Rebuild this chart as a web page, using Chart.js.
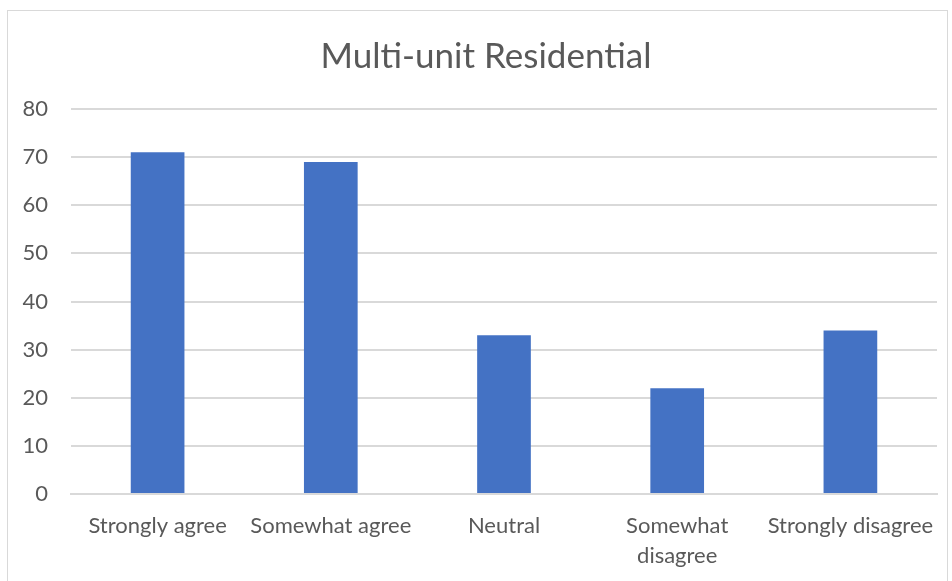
<!DOCTYPE html>
<html>
<head>
<meta charset="utf-8">
<script src="https://cdn.jsdelivr.net/npm/chart.js@4"></script>
<style>
  html, body { margin: 0; padding: 0; background: #fff; }
  #frame {
    position: absolute; left: 7px; top: 10px;
    width: 939px; height: 600px;
    border: 1px solid #d9d9d9;
  }
  #wrap { position: absolute; left: 0; top: 0; width: 952px; height: 581px; }
</style>
</head>
<body>
<div id="frame"></div>
<div id="wrap"><canvas id="grafico" width="952" height="581"></canvas></div>
<script>
const categorias = ["Strongly agree", "Somewhat agree", "Neutral", ["Somewhat", "disagree"], "Strongly disagree"];
const valores = [71, 69, 33, 22, 34];
const ticksY = [0, 10, 20, 30, 40, 50, 60, 70, 80];

const corTexto = "#595959";
const fonte = "Lato, 'Open Sans', sans-serif";

const ctx = document.getElementById("grafico").getContext("2d");

// empurra o titulo um pouco para a direita, como no original
const moverTitulo = {
  id: "moverTitulo",
  afterLayout(chart) {
    if (chart.titleBlock) chart.titleBlock.left = 35;
  },
};

new Chart(ctx, {
  type: "bar",
  data: {
    labels: categorias,
    datasets: [
      {
        data: valores,
        backgroundColor: "#4472c4",
        borderWidth: 0,
        barPercentage: 1,
        categoryPercentage: 0.31,
      },
    ],
  },
  options: {
    responsive: false,
    animation: false,
    layout: {
      padding: { left: 0, right: 15, top: 0, bottom: 0 },
    },
    plugins: {
      legend: { display: false },
      tooltip: { enabled: false },
      title: {
        display: true,
        text: "Multi-unit Residential",
        color: corTexto,
        font: { family: fonte, size: 35, weight: "normal" },
        padding: { top: 36, bottom: 31 },
      },
    },
    scales: {
      x: {
        grid: { display: false, drawTicks: false },
        border: { display: true, color: "#d9d9d9", width: 2 },
        ticks: {
          color: corTexto,
          font: { family: fonte, size: 22, lineHeight: 1.36 },
          padding: 17,
          maxRotation: 0,
          autoSkip: false,
        },
        afterFit: (scale) => { scale.height = 87; },
      },
      y: {
        min: 0,
        max: 80,
        afterBuildTicks: (scale) => {
          scale.ticks = ticksY.map((v) => ({ value: v }));
        },
        grid: { color: "#d9d9d9", lineWidth: 2, drawTicks: false },
        border: { display: false },
        ticks: {
          color: corTexto,
          font: { family: fonte, size: 22 },
          padding: 23,
        },
        afterFit: (scale) => { scale.width = 71; },
      },
    },
  },
  plugins: [moverTitulo],
});
</script>
</body>
</html>
